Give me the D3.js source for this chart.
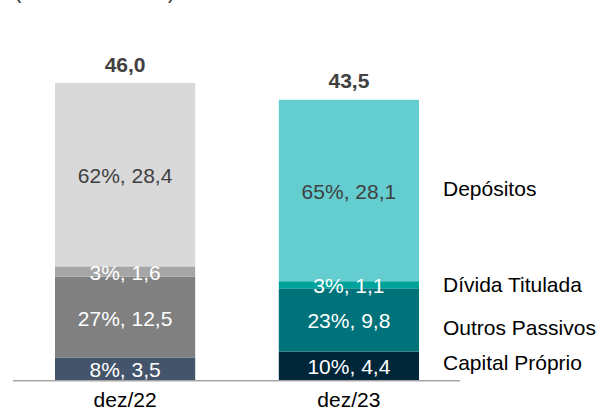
<!DOCTYPE html>
<html>
<head>
<meta charset="utf-8">
<script src="https://cdn.jsdelivr.net/npm/d3@7"></script>
<style>
  html, body { margin: 0; padding: 0; background: #fff; }
  svg { display: block; font-family: "Liberation Sans", Arial, sans-serif; }
</style>
</head>
<body>
<svg id="chart" width="605" height="410"></svg>
<script>
// ---- data ----
const categories = ["dez/22", "dez/23"];
const seriesNames = ["Capital Próprio", "Outros Passivos", "Dívida Titulada", "Depósitos"];
const capitalProprio = [3.5, 4.4];
const outrosPassivos = [12.5, 9.8];
const dividaTitulada = [1.6, 1.1];
const depositos = [28.4, 28.1];
const capitalPct = ["8%", "10%"];
const outrosPct = ["27%", "23%"];
const dividaPct = ["3%", "3%"];
const depositosPct = ["62%", "65%"];
const totalLabels = ["46,0", "43,5"];
const yMax = 46.0;

// ---- styles ----
const colors = [
  ["#44546a", "#808080", "#a6a6a6", "#d9d9d9"],
  ["#00263a", "#00737a", "#00a39b", "#63cdd0"]
];
const labelColors = ["#ffffff", "#ffffff", "#ffffff", "#404040"];
const legendBaselines = [370, 335, 292, 196];

const svg = d3.select("#chart");
const fmt = v => v.toFixed(1).replace(".", ",");

const x = d3.scaleBand().domain(categories).range([55, 419]).paddingInner(0.3736).paddingOuter(0);
const y = d3.scaleLinear().domain([0, yMax]).range([380, 83]);

const keys = ["cap", "out", "div", "dep"];
const vals = { cap: capitalProprio, out: outrosPassivos, div: dividaTitulada, dep: depositos };
const pcts = { cap: capitalPct, out: outrosPct, div: dividaPct, dep: depositosPct };
const table = categories.map((c, i) => {
  const o = { cat: c, idx: i };
  keys.forEach(k => o[k] = vals[k][i]);
  return o;
});
const stacked = d3.stack().keys(keys)(table);

// title (mostly clipped off the top, as in the reference)
svg.append("text").attr("x", 14).attr("y", -2.5)
  .attr("font-size", 22.5).attr("fill", "#404040").text("(Em R$ bilhões)");

// bars
stacked.forEach((layer, li) => {
  svg.append("g").selectAll("rect").data(layer).join("rect")
    .attr("x", d => x(d.data.cat))
    .attr("width", x.bandwidth())
    .attr("y", d => y(d[1]))
    .attr("height", d => y(d[0]) - y(d[1]))
    .attr("fill", d => colors[d.data.idx][li]);
});

// segment labels
stacked.forEach((layer, li) => {
  const k = keys[li];
  svg.append("g").selectAll("text").data(layer).join("text")
    .attr("x", d => x(d.data.cat) + x.bandwidth() / 2)
    .attr("y", d => (y(d[0]) + y(d[1])) / 2 + 8.5)
    .attr("text-anchor", "middle")
    .attr("font-size", 21)
    .attr("fill", labelColors[li])
    .text(d => pcts[k][d.data.idx] + ", " + fmt(d.data[k]));
});

// totals
const topLayer = stacked[stacked.length - 1];
svg.append("g").selectAll("text").data(topLayer).join("text")
  .attr("x", d => x(d.data.cat) + x.bandwidth() / 2)
  .attr("y", d => y(d[1]) - 11.5)
  .attr("text-anchor", "middle")
  .attr("font-size", 21)
  .attr("font-weight", "bold")
  .attr("fill", "#404040")
  .text(d => totalLabels[d.data.idx]);

// baseline axis
svg.append("line").attr("x1", 13).attr("x2", 460)
  .attr("y1", y(0) + 0.75).attr("y2", y(0) + 0.75)
  .attr("stroke", "#a6a6a6").attr("stroke-width", 1.5);

// x axis labels
const xAxis = d3.axisBottom(x).tickSize(0).tickPadding(0);
const gx = svg.append("g").attr("transform", `translate(0,${y(0)})`).call(xAxis);
gx.select(".domain").remove();
gx.selectAll("text").attr("font-size", 21).attr("fill", "#000")
  .attr("font-family", "Liberation Sans, Arial, sans-serif")
  .attr("dy", null).attr("y", 27);

// legend labels
svg.append("g").selectAll("text").data(seriesNames).join("text")
  .attr("x", 443)
  .attr("y", (d, i) => legendBaselines[i])
  .attr("font-size", 21)
  .attr("fill", "#000")
  .text(d => d);
</script>
</body>
</html>
